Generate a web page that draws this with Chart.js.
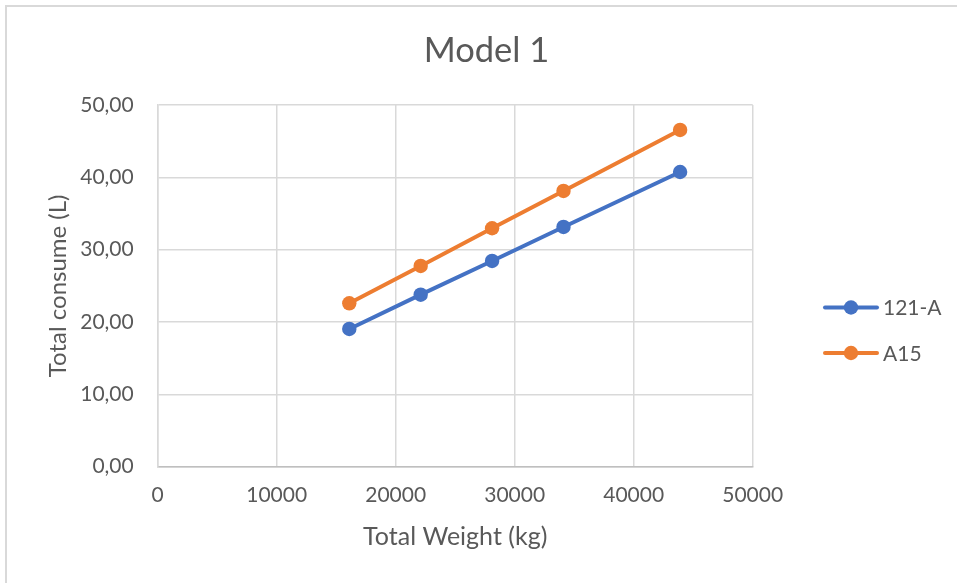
<!DOCTYPE html>
<html>
<head>
<meta charset="utf-8">
<script src="https://cdn.jsdelivr.net/npm/chart.js@4.4.0/dist/chart.umd.min.js"></script>
<style>
  html, body { margin: 0; padding: 0; background: #ffffff; }
  #wrap { width: 957px; height: 583px; position: relative; }
</style>
</head>
<body>
<div id="wrap"><canvas id="c" width="957" height="583"></canvas></div>
<script>
// ---- data ----
const weights = [16100, 22100, 28100, 34100, 43900];
const series121A = [19.04, 23.78, 28.44, 33.14, 40.74];
const seriesA15 = [22.59, 27.75, 32.96, 38.12, 46.55];
const seriesNames = ['121-A', 'A15'];
const chartTitle = 'Model 1';
const xTitle = 'Total Weight (kg)';
const yTitle = 'Total consume (L)';

const BLUE = '#4472C4';
const ORANGE = '#ED7D31';
const TEXT = '#595959';
const GRID = '#d9d9d9';
const FONT = 'Lato';
const LEFT_PAD = 16;

function toPoints(xs, ys) { return xs.map((x, i) => ({ x: x, y: ys[i] })); }

const borderPlugin = {
  id: 'outerBorder',
  beforeDraw(chart) {
    const ctx = chart.ctx;
    ctx.save();
    ctx.strokeStyle = GRID;
    ctx.lineWidth = 2;
    ctx.beginPath();
    ctx.moveTo(6, 583);
    ctx.lineTo(6, 6);
    ctx.lineTo(957, 6);
    ctx.stroke();
    ctx.restore();
  }
};

// right-hand layout box that reserves room for the legend
const spacerPlugin = {
  id: 'rightSpacer',
  beforeInit(chart) {
    const box = {
      position: 'right', weight: 0, fullSize: false, options: {},
      left: 0, top: 0, right: 0, bottom: 0, width: 0, height: 0,
      isHorizontal() { return false; },
      update(maxWidth, maxHeight) { this.width = 957 - 752.7; this.height = maxHeight; },
      draw() {}
    };
    Chart.layouts.addBox(chart, box);
  }
};

const legendPlugin = {
  id: 'sideLegend',
  afterDraw(chart) {
    const ctx = chart.ctx;
    ctx.save();
    chart.data.datasets.forEach((ds, i) => {
      const y = 307.5 + i * 45.5;
      ctx.strokeStyle = ds.borderColor;
      ctx.lineWidth = 4;
      ctx.lineCap = 'round';
      ctx.beginPath();
      ctx.moveTo(825, y);
      ctx.lineTo(877, y);
      ctx.stroke();
      ctx.fillStyle = ds.backgroundColor;
      ctx.beginPath();
      ctx.arc(851, y, 7.2, 0, Math.PI * 2);
      ctx.fill();
      ctx.fillStyle = TEXT;
      ctx.font = '21px ' + FONT;
      ctx.textAlign = 'left';
      ctx.textBaseline = 'middle';
      ctx.fillText(ds.label, 883, y + 1);
    });
    ctx.restore();
  }
};

new Chart(document.getElementById('c'), {
  type: 'line',
  data: {
    datasets: [
      {
        label: seriesNames[0],
        data: toPoints(weights, series121A),
        borderColor: BLUE, backgroundColor: BLUE,
        pointBackgroundColor: BLUE, pointBorderColor: BLUE,
        borderWidth: 4, pointRadius: 7.2, pointBorderWidth: 0, tension: 0
      },
      {
        label: seriesNames[1],
        data: toPoints(weights, seriesA15),
        borderColor: ORANGE, backgroundColor: ORANGE,
        pointBackgroundColor: ORANGE, pointBorderColor: ORANGE,
        borderWidth: 4, pointRadius: 7.2, pointBorderWidth: 0, tension: 0
      }
    ]
  },
  options: {
    responsive: false,
    animation: false,
    layout: { padding: { left: LEFT_PAD, top: 0, right: 0, bottom: 0 } },
    plugins: {
      legend: { display: false },
      tooltip: { enabled: false },
      title: {
        display: true,
        text: chartTitle,
        color: TEXT,
        font: { family: FONT, size: 34.5, weight: 'normal', lineHeight: 1.2 },
        padding: { top: 30, bottom: 33.6 }
      }
    },
    scales: {
      x: {
        type: 'linear',
        min: 0, max: 50000,
        ticks: {
          stepSize: 10000,
          color: TEXT,
          font: { family: FONT, size: 21 },
          padding: 16,
          maxRotation: 0,
          callback: v => String(v)
        },
        grid: { color: GRID, lineWidth: 1.5, drawTicks: false },
        border: { color: '#bfbfbf', width: 1.5 },
        title: {
          display: true, text: xTitle, color: TEXT,
          font: { family: FONT, size: 25, lineHeight: 1.2 },
          padding: { top: 0, bottom: 31 }
        },
        afterFit(scale) { scale.height = 583 - 466.7; }
      },
      y: {
        type: 'linear',
        min: 0, max: 50,
        ticks: {
          stepSize: 10,
          color: TEXT,
          font: { family: FONT, size: 21 },
          padding: 24,
          callback: v => v.toFixed(2).replace('.', ',')
        },
        grid: { color: GRID, lineWidth: 1.5, drawTicks: false },
        border: { color: GRID, width: 1.5 },
        title: {
          display: true, text: yTitle, color: TEXT,
          font: { family: FONT, size: 24, lineHeight: 1.2 },
          padding: { top: 27.6, bottom: 0 }
        },
        afterFit(scale) { scale.width = 157.7 - LEFT_PAD; }
      }
    }
  },
  plugins: [borderPlugin, spacerPlugin, legendPlugin]
});
</script>
</body>
</html>
